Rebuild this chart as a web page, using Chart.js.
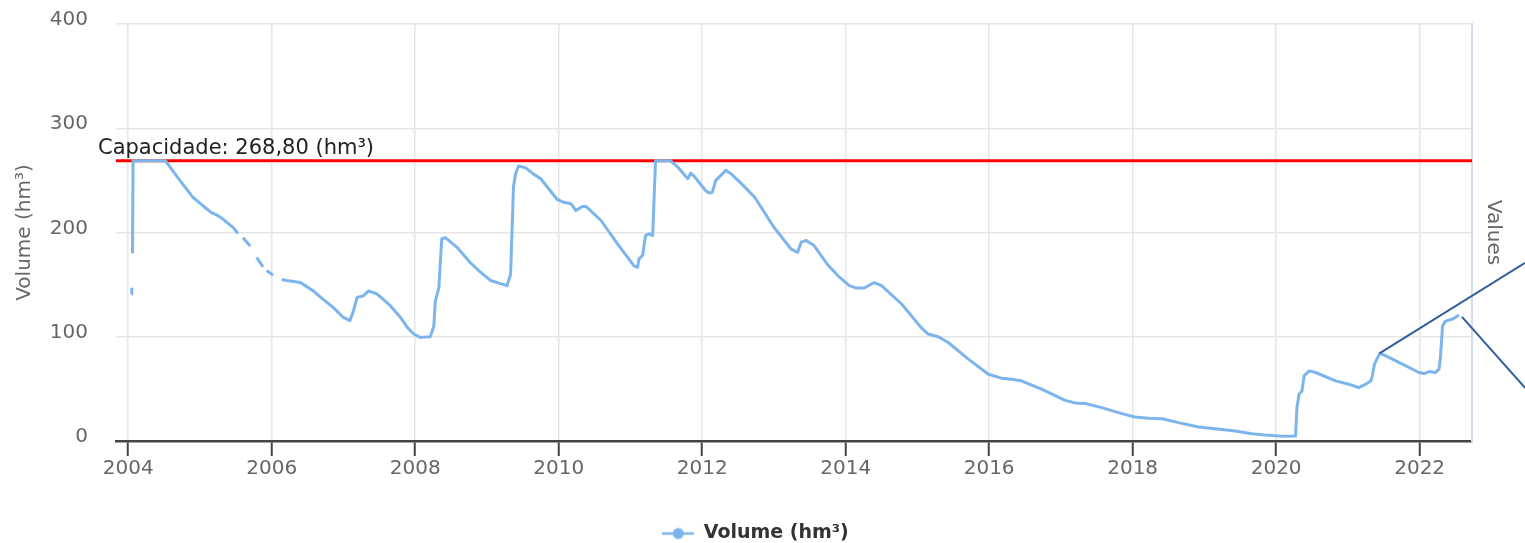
<!DOCTYPE html>
<html lang="pt">
<head>
<meta charset="UTF-8">
<title>Volume (hm³)</title>
<script src="https://cdn.jsdelivr.net/npm/chart.js@4.4.0/dist/chart.umd.min.js"></script>
<style>
  html, body { margin: 0; padding: 0; background: #fff; }
</style>
</head>
<body>
<canvas id="volumeChart" width="1525" height="543"></canvas>
<script>
// data (decimal years / hm³); null = gap in the record
const dates = [
  2004.045, 2004.05, 2004.055, 2004.06, 2004.068, 2004.52, 2004.72, 2004.90, 2005.07, 2005.16,
  2005.23, 2005.30, 2005.46, 2005.53, 2005.56, 2005.60, 2005.70, 2005.74, 2005.79, 2005.88,
  2005.90, 2005.93, 2006.02, 2006.06, 2006.14, 2006.21, 2006.40, 2006.58, 2006.68, 2006.86,
  2007.00, 2007.09, 2007.14, 2007.19, 2007.28, 2007.35, 2007.47, 2007.65, 2007.79, 2007.89,
  2007.98, 2008.07, 2008.21, 2008.26, 2008.28, 2008.33, 2008.37, 2008.42, 2008.58, 2008.77,
  2008.91, 2009.05, 2009.19, 2009.28, 2009.33, 2009.37, 2009.40, 2009.44, 2009.54, 2009.65,
  2009.75, 2009.98, 2010.07, 2010.17, 2010.24, 2010.33, 2010.38, 2010.59, 2010.82, 2011.05,
  2011.10, 2011.12, 2011.17, 2011.21, 2011.26, 2011.31, 2011.35, 2011.56, 2011.66, 2011.80,
  2011.84, 2011.89, 2012.05, 2012.10, 2012.14, 2012.19, 2012.26, 2012.33, 2012.40, 2012.54,
  2012.73, 2013.00, 2013.24, 2013.33, 2013.38, 2013.45, 2013.56, 2013.75, 2013.89, 2014.05,
  2014.14, 2014.26, 2014.40, 2014.50, 2014.78, 2015.05, 2015.15, 2015.29, 2015.43, 2015.71,
  2015.99, 2016.17, 2016.31, 2016.45, 2016.73, 2017.06, 2017.20, 2017.34, 2017.57, 2017.85,
  2018.03, 2018.22, 2018.41, 2018.64, 2018.92, 2019.15, 2019.43, 2019.66, 2019.90, 2020.09,
  2020.27, 2020.29, 2020.32, 2020.36, 2020.39, 2020.46, 2020.55, 2020.83, 2021.01, 2021.15,
  2021.25, 2021.32, 2021.34, 2021.37, 2021.44, 2021.48, 2021.76, 2021.99, 2022.06, 2022.13,
  2022.22, 2022.27, 2022.29, 2022.32, 2022.36, 2022.46, 2022.53, 2022.55
];
const volumes = [
  141, 147, null, 180, 268.8, 268.8, 250, 234, 224, 219,
  217, 214, 205, 199, null, 195, 187, null, 176, 167,
  null, 163.5, 159, null, 155, 154, 152, 144, 138, 128,
  118.5, 115.4, 125, 137.8, 139.4, 144, 141, 130, 119, 109,
  102.6, 99.4, 100, 110, 134, 147, 194, 195, 186, 171,
  162, 154, 151, 149, 160, 243.6, 256.4, 263.8, 262, 256,
  251.6, 231.7, 229, 227.6, 221, 225, 225, 211.5, 189, 168,
  166.6, 174.7, 178, 197, 198.7, 197, 268.8, 268.8, 262.8, 251.6,
  257, 253.8, 240, 237.8, 238.5, 250, 254.8, 259.6, 256.4, 247.4,
  234, 205, 184, 181, 190.7, 192.3, 187.5, 169, 158.7, 149,
  146.8, 146.8, 152, 149, 131.4, 109, 102.6, 100, 94.5, 78.5,
  64, 60.3, 59.3, 57.7, 49.7, 39, 36.5, 35.9, 32, 26.3,
  23, 21.8, 21.4, 17.6, 13.5, 11.8, 9.6, 7, 5.4, 4.5,
  4.8, 32, 45, 48, 62.5, 67.3, 65.7, 57.7, 54.5, 51.3,
  54.5, 57.7, 62.5, 73.7, 83.4, 83.4, 73.7, 65.7, 64.7, 66.6,
  65.7, 69, 80, 110.6, 115, 117, 120, 121
];
const tickYears = [2004, 2006, 2008, 2010, 2012, 2014, 2016, 2018, 2020, 2022];
const yTicks = [0, 100, 200, 300, 400];
const capacity = 268.8;
const capacityLabel = 'Capacidade: 268,80 (hm³)';
// hand-drawn callout lines over the picture: [from, to] in [year, hm³]
const calloutFrom = [[2021.44, 84], [2022.59, 119]];
const calloutTo = [[2023.47, 171], [2023.47, 51]];

Chart.defaults.font.family = '"DejaVu Sans", sans-serif';

const lineColor = '#7cb5ec';

// legend symbol: line with a dot, like the original
const legendIcon = document.createElement('canvas');
legendIcon.width = 32;
legendIcon.height = 14;
(function () {
  const c = legendIcon.getContext('2d');
  c.strokeStyle = lineColor;
  c.lineWidth = 2.5;
  c.beginPath(); c.moveTo(0, 7); c.lineTo(32, 7); c.stroke();
  c.fillStyle = lineColor;
  c.beginPath(); c.arc(16, 7, 5.5, 0, Math.PI * 2); c.fill();
})();

const capacityPlugin = {
  id: 'capacityLine',
  beforeDatasetsDraw(chart) {
    const { ctx, chartArea, scales } = chart;
    const py = scales.y.getPixelForValue(capacity);
    ctx.save();
    ctx.strokeStyle = '#ff0000';
    ctx.lineWidth = 3;
    ctx.beginPath();
    ctx.moveTo(chartArea.left, py);
    ctx.lineTo(chartArea.right, py);
    ctx.stroke();
    ctx.font = '21px "DejaVu Sans", sans-serif';
    ctx.fillStyle = '#222';
    ctx.textBaseline = 'alphabetic';
    ctx.fillText(capacityLabel, chartArea.left - 18, py - 7);
    ctx.restore();
  },
  afterDraw(chart) {
    const { ctx, scales } = chart;
    ctx.save();
    ctx.strokeStyle = '#2f5d9b';
    ctx.lineWidth = 2;
    calloutFrom.forEach((p, i) => {
      const q = calloutTo[i];
      ctx.beginPath();
      ctx.moveTo(scales.x.getPixelForValue(p[0]), scales.y.getPixelForValue(p[1]));
      ctx.lineTo(scales.x.getPixelForValue(q[0]), scales.y.getPixelForValue(q[1]));
      ctx.stroke();
    });
    ctx.restore();
  }
};

new Chart(document.getElementById('volumeChart'), {
  type: 'line',
  data: {
    datasets: [{
      label: 'Volume (hm³)',
      data: dates.map((d, i) => ({ x: d, y: volumes[i] })),
      borderColor: lineColor,
      backgroundColor: lineColor,
      borderWidth: 3,
      borderJoinStyle: 'round',
      pointRadius: 0,
      pointStyle: legendIcon,
      tension: 0,
      spanGaps: false,
      yAxisID: 'y'
    }]
  },
  options: {
    responsive: false,
    animation: false,
    layout: { padding: { top: 24, left: 0, right: 14, bottom: -10 } },
    plugins: {
      tooltip: { enabled: false },
      legend: {
        position: 'bottom',
        labels: {
          usePointStyle: true,
          pointStyleWidth: 32,
          color: '#333',
          padding: 10,
          font: { size: 19, weight: 'bold' }
        }
      }
    },
    scales: {
      x: {
        type: 'linear',
        min: 2003.83,
        max: 2022.73,
        afterBuildTicks: s => { s.ticks = tickYears.map(v => ({ value: v })); },
        afterFit: s => { s.height = 73; },
        grid: { color: '#e6e6e6', lineWidth: 1.5, tickColor: '#444', tickWidth: 2, tickLength: 15 },
        border: { color: '#444', width: 2.5 },
        ticks: {
          color: '#666',
          font: { size: 20 },
          padding: 1,
          maxRotation: 0,
          autoSkip: false,
          callback: v => String(v)
        }
      },
      y: {
        position: 'left',
        min: 0,
        max: 400,
        afterBuildTicks: s => { s.ticks = yTicks.map(v => ({ value: v })); },
        afterFit: s => { s.width = 116; s.paddingTop = 0; s.paddingBottom = 0; },
        grid: { color: '#e6e6e6', lineWidth: 1.5, drawTicks: false },
        border: { display: false },
        ticks: { color: '#666', font: { size: 20 }, padding: 28, labelOffset: -4 },
        title: {
          display: true,
          text: 'Volume (hm³)',
          color: '#666',
          font: { size: 20 },
          padding: { top: 13, bottom: 0 }
        }
      },
      y2: {
        position: 'right',
        min: 0,
        max: 400,
        afterFit: s => { s.width = 39; s.paddingTop = 0; s.paddingBottom = 0; },
        grid: { drawOnChartArea: false, drawTicks: false },
        border: { color: '#d5dcea', width: 2 },
        ticks: { display: false },
        title: {
          display: true,
          text: 'Values',
          color: '#666',
          font: { size: 20 },
          padding: { top: 6, bottom: 0 }
        }
      }
    }
  },
  plugins: [capacityPlugin]
});
</script>
</body>
</html>
